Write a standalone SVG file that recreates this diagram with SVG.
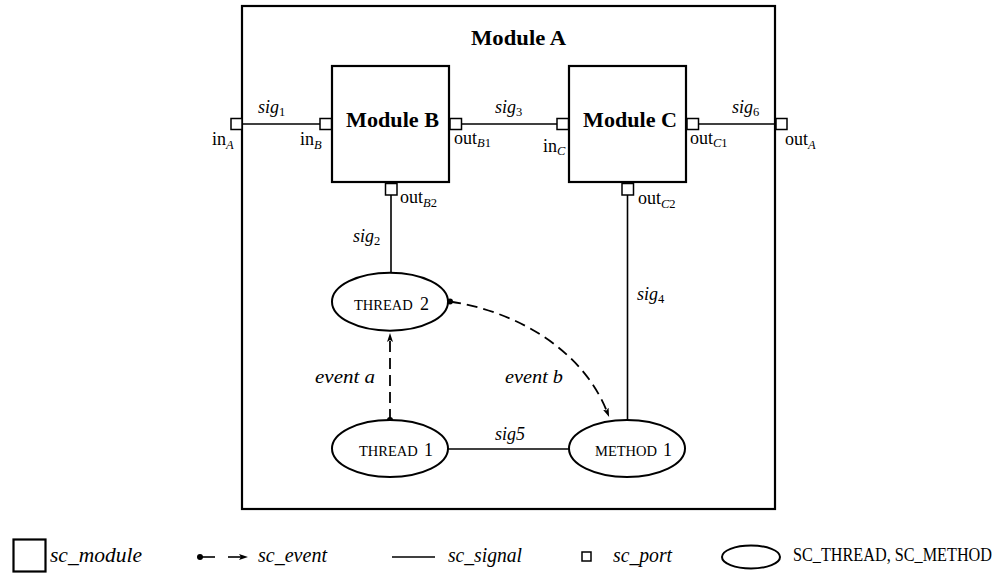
<svg xmlns="http://www.w3.org/2000/svg" width="1008" height="573" viewBox="0 0 1008 573">
<style>
.box{fill:#fff;stroke:#000;stroke-width:2.2}
.port{fill:#fff;stroke:#000;stroke-width:1.5}
.sig{fill:none;stroke:#000;stroke-width:1.6}
.ev{fill:none;stroke:#000;stroke-width:1.8;stroke-dasharray:11 6}
.proc{fill:#fff;stroke:#000;stroke-width:2}
text{font-family:"Liberation Serif",serif;fill:#000;font-size:18px}
.mod{font-weight:bold;font-size:22px}
.it{font-style:italic}
.sub{font-size:12.5px}
.sc{font-size:14.5px}
.leg{font-style:italic;font-size:20px}
</style>
<defs>
<marker id="arr" markerUnits="userSpaceOnUse" markerWidth="10" markerHeight="6" viewBox="0 0 10 6" refX="2" refY="3" orient="auto">
<path d="M0,0 L9,3 L0,6 L2,3 z" fill="#000"/>
</marker>
</defs>
<rect width="1008" height="573" fill="#fff"/>

<g id="moduleA">
<rect class="box" x="242" y="6" width="533" height="503"/>
<text class="mod" x="471" y="45" textLength="95" lengthAdjust="spacingAndGlyphs">Module A</text>
<rect class="port" x="231" y="118.5" width="11" height="11"/>
<text x="212" y="145">in<tspan class="sub it" dy="3.5">A</tspan></text>
<rect class="port" x="776" y="118.5" width="11" height="11"/>
<text x="785" y="145">out<tspan class="sub it" dy="3.5">A</tspan></text>
</g>

<g id="moduleB">
<rect class="box" x="332" y="66" width="117" height="116"/>
<text class="mod" x="346" y="127" textLength="93" lengthAdjust="spacingAndGlyphs">Module B</text>
<rect class="port" x="320" y="118.5" width="11.5" height="11"/>
<text x="300" y="145">in<tspan class="sub it" dy="3.5">B</tspan></text>
<rect class="port" x="450" y="118.5" width="11.5" height="11"/>
<text x="454" y="143.5">out<tspan class="sub" dy="3.5"><tspan class="it">B</tspan>1</tspan></text>
<rect class="port" x="385.5" y="183.5" width="11.5" height="11.5"/>
<text x="400" y="203">out<tspan class="sub" dy="3.5"><tspan class="it">B</tspan>2</tspan></text>
</g>

<g id="moduleC">
<rect class="box" x="569" y="66" width="117" height="116"/>
<text class="mod" x="583" y="127" textLength="94" lengthAdjust="spacingAndGlyphs">Module C</text>
<rect class="port" x="557" y="118.5" width="11.5" height="11"/>
<text x="543" y="151.5">in<tspan class="sub it" dy="3.5">C</tspan></text>
<rect class="port" x="687" y="118.5" width="11.5" height="11"/>
<text x="690" y="143.5">out<tspan class="sub" dy="3.5"><tspan class="it">C</tspan>1</tspan></text>
<rect class="port" x="622" y="183.5" width="11.5" height="11.5"/>
<text x="638" y="204">out<tspan class="sub" dy="3.5"><tspan class="it">C</tspan>2</tspan></text>
</g>

<g id="connectors">
<line class="sig" x1="242" y1="124" x2="320" y2="124"/>
<line class="sig" x1="461.5" y1="124" x2="557" y2="124"/>
<line class="sig" x1="698.5" y1="124" x2="776" y2="124"/>
<line class="sig" x1="391" y1="195" x2="391" y2="273"/>
<line class="sig" x1="627.5" y1="195" x2="627.5" y2="420"/>
<line class="sig" x1="448" y1="449" x2="569" y2="449"/>
<text x="258" y="113"><tspan class="it">sig</tspan><tspan class="sub" dy="3">1</tspan></text>
<text x="495" y="113"><tspan class="it">sig</tspan><tspan class="sub" dy="3">3</tspan></text>
<text x="732" y="113"><tspan class="it">sig</tspan><tspan class="sub" dy="3">6</tspan></text>
<text x="353" y="242"><tspan class="it">sig</tspan><tspan class="sub" dy="3">2</tspan></text>
<text x="637" y="300"><tspan class="it">sig</tspan><tspan class="sub" dy="3">4</tspan></text>
<text class="it" x="495" y="440">sig5</text>
<path class="ev" d="M390,420 L390,340" marker-end="url(#arr)"/>
<circle cx="390" cy="420" r="3"/>
<path class="ev" d="M450,301.5 C520,312 583,352 606.5,410.5" marker-end="url(#arr)"/>
<circle cx="450" cy="301.5" r="3"/>
<text class="it" x="315" y="383" font-size="20" textLength="60" lengthAdjust="spacingAndGlyphs">event a</text>
<text class="it" x="505" y="383" font-size="20" textLength="58" lengthAdjust="spacingAndGlyphs">event b</text>
</g>

<g id="thread2">
<ellipse class="proc" cx="390" cy="301.7" rx="58" ry="29"/>
<text x="354" y="310"><tspan class="sc">THREAD</tspan><tspan x="420">2</tspan></text>
</g>

<g id="thread1">
<ellipse class="proc" cx="390" cy="448.5" rx="58" ry="28.5"/>
<text x="359" y="456"><tspan class="sc">THREAD</tspan><tspan x="424">1</tspan></text>
</g>

<g id="method1">
<ellipse class="proc" cx="627" cy="448.5" rx="58" ry="28.5"/>
<text x="595" y="456"><tspan class="sc">METHOD</tspan><tspan x="663">1</tspan></text>
</g>

<g id="legend">
<rect class="box" x="13.5" y="539.5" width="32" height="32" stroke-width="2"/>
<text class="leg" x="50" y="561.5" textLength="92" lengthAdjust="spacingAndGlyphs">sc_module</text>
<circle cx="200" cy="557" r="3"/>
<line class="sig" x1="200" y1="557" x2="215" y2="557"/>
<path class="sig" d="M228,557 L241,557" marker-end="url(#arr)"/>
<text class="leg" x="258" y="561.5" textLength="69" lengthAdjust="spacingAndGlyphs">sc_event</text>
<line class="sig" x1="392" y1="557" x2="435" y2="557" stroke-width="1.3"/>
<text class="leg" x="448" y="561.5" textLength="74" lengthAdjust="spacingAndGlyphs">sc_signal</text>
<rect class="port" x="582" y="552" width="9" height="9"/>
<text class="leg" x="613" y="561.5" textLength="59" lengthAdjust="spacingAndGlyphs">sc_port</text>
<ellipse class="proc" cx="751" cy="557" rx="29" ry="11.5" stroke-width="1.5"/>
<text x="793" y="561" font-size="14.5" textLength="199" lengthAdjust="spacingAndGlyphs">SC_THREAD, SC_METHOD</text>
</g>
</svg>
